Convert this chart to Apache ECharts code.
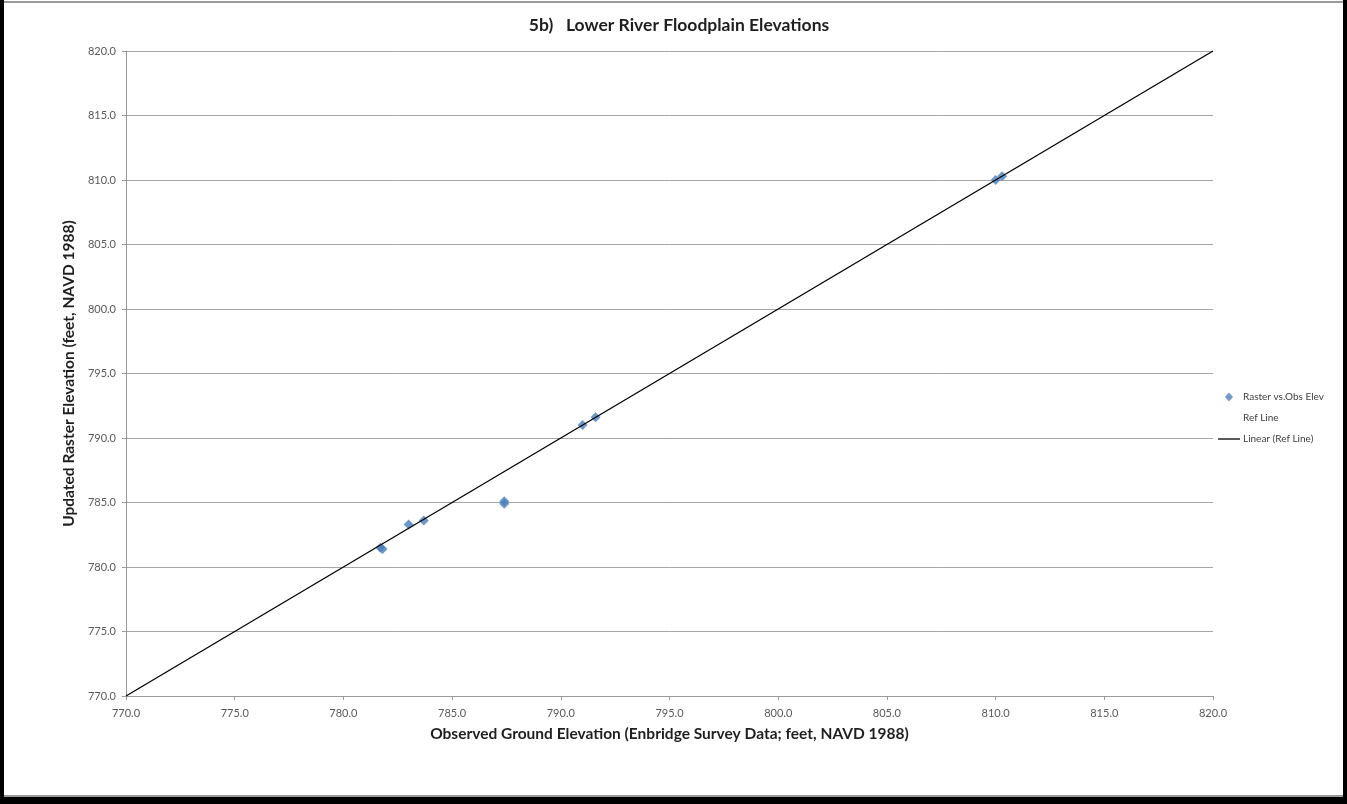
<!DOCTYPE html>
<html>
<head>
<meta charset="utf-8">
<script src="https://cdn.jsdelivr.net/npm/echarts@6/dist/echarts.min.js"></script>
<style>
  html, body { margin: 0; padding: 0; background: #ffffff; }
  #chart { width: 1347px; height: 804px; }
</style>
</head>
<body>
<div id="chart"></div>
<script>
// Observed survey elevations (x) vs updated raster elevations (y), feet NAVD 1988
var observedElev = [781.7, 781.8, 783.0, 783.7, 787.4, 787.4, 791.0, 791.6, 810.0, 810.3];
var rasterElev   = [781.5, 781.4, 783.3, 783.6, 784.9, 785.1, 791.0, 791.6, 810.0, 810.3];

// 1:1 reference line endpoints
var refLineX = [770, 820];
var refLineY = [770, 820];

var axisMin = 770, axisMax = 820, axisStep = 5;

var seriesNames = ['Raster vs.Obs Elev', 'Ref Line', 'Linear (Ref Line)'];

var scatterData = observedElev.map(function (x, i) { return [x, rasterElev[i]]; });
var refData = refLineX.map(function (x, i) { return [x, refLineY[i]]; });

var fontFam = 'Lato, "Open Sans", sans-serif';
var tickFmt = function (v) { return v.toFixed(1); };

var chart = echarts.init(document.getElementById('chart'), null, { renderer: 'canvas' });
chart.setOption({
  backgroundColor: '#ffffff',
  animation: false,
  title: {
    text: '5b)   Lower River Floodplain Elevations',
    left: 674, top: 11, textAlign: 'center',
    textStyle: { fontFamily: fontFam, fontSize: 17.5, fontWeight: 'bold', color: '#1f1f1f' }
  },
  grid: { left: 126, right: 134, top: 51, bottom: 108, containLabel: false },
  legend: {
    orient: 'vertical',
    left: 1213, top: 387,
    itemWidth: 22, itemHeight: 9, itemGap: 11,
    textStyle: { fontFamily: fontFam, fontSize: 10, color: '#404040', padding: [0, 0, 0, -2] },
    data: [
      { name: seriesNames[0], icon: 'path://M4,0 L8,4.5 L4,9 L0,4.5 Z', itemStyle: { color: '#4f81bd' } },
      { name: seriesNames[1], icon: 'rect', itemStyle: { opacity: 0 } },
      { name: seriesNames[2], icon: 'path://M0,0 L22,0 L22,1.3 L0,1.3 Z', itemStyle: { color: '#000000' } }
    ],
    selectedMode: false
  },
  xAxis: {
    type: 'value', min: axisMin, max: axisMax, interval: axisStep,
    name: 'Observed Ground Elevation (Enbridge Survey Data; feet, NAVD 1988)',
    nameLocation: 'middle', nameGap: 30,
    nameTextStyle: { fontFamily: fontFam, fontSize: 15.5, fontWeight: 'bold', color: '#1f1f1f' },
    axisLine: { show: true, onZero: false, lineStyle: { color: '#9a9a9a', width: 1 } },
    axisTick: { show: true, length: 4, lineStyle: { color: '#9a9a9a' } },
    axisLabel: { formatter: tickFmt, fontFamily: fontFam, fontSize: 11, color: '#595959', margin: 12 },
    splitLine: { show: false }
  },
  yAxis: {
    type: 'value', min: axisMin, max: axisMax, interval: axisStep,
    name: 'Updated Raster Elevation (feet, NAVD 1988)',
    nameLocation: 'middle', nameGap: 38, nameRotate: 90,
    nameTextStyle: { fontFamily: fontFam, fontSize: 15.5, fontWeight: 'bold', color: '#1f1f1f' },
    axisLine: { show: true, onZero: false, lineStyle: { color: '#9a9a9a', width: 1 } },
    axisTick: { show: true, length: 4, lineStyle: { color: '#9a9a9a' } },
    axisLabel: { formatter: tickFmt, fontFamily: fontFam, fontSize: 11, color: '#595959', margin: 10 },
    splitLine: { show: true, lineStyle: { color: '#a6a6a6', width: 1 } }
  },
  series: [
    {
      name: seriesNames[0], type: 'scatter', data: scatterData,
      symbol: 'diamond', symbolSize: 10,
      itemStyle: { color: '#4a7ebb' }, z: 3
    },
    {
      name: seriesNames[1], type: 'scatter', data: refData,
      symbolSize: 0, itemStyle: { opacity: 0 }, silent: true
    },
    {
      name: seriesNames[2], type: 'line', data: refData,
      showSymbol: false, symbol: 'none',
      lineStyle: { color: '#000000', width: 1.3 }, z: 4
    }
  ],
  graphic: [
    { type: 'rect', shape: { x: 0, y: 0, width: 4, height: 804 }, style: { fill: '#000000' }, silent: true },
    { type: 'rect', shape: { x: 1343, y: 0, width: 4, height: 804 }, style: { fill: '#000000' }, silent: true },
    { type: 'rect', shape: { x: 0, y: 797, width: 1347, height: 7 }, style: { fill: '#000000' }, silent: true },
    { type: 'rect', shape: { x: 4, y: 795, width: 1339, height: 2 }, style: { fill: '#9a9a9a' }, silent: true },
    { type: 'rect', shape: { x: 4, y: 1, width: 1339, height: 2 }, style: { fill: '#9a9a9a' }, silent: true }
  ]
});
</script>
</body>
</html>
